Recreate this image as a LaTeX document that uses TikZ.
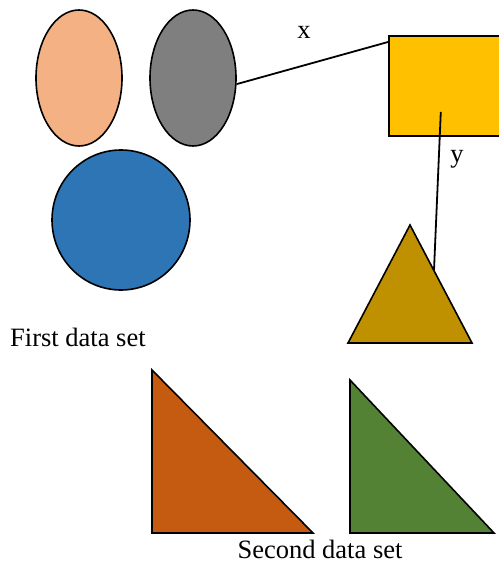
\documentclass[tikz,border=0pt]{standalone}
\usepackage{fontspec}
\setmainfont{Liberation Serif}
\usepackage{tikz}
\usetikzlibrary{shapes.geometric, positioning}
\definecolor{FigPeach}{HTML}{F4B183}
\definecolor{FigGray}{HTML}{7F7F7F}
\definecolor{FigBlue}{HTML}{2E75B6}
\definecolor{FigYellow}{HTML}{FFC000}
\definecolor{FigGold}{HTML}{BF9000}
\definecolor{FigOrange}{HTML}{C55A11}
\definecolor{FigGreen}{HTML}{548235}

\begin{document}
\begin{tikzpicture}[x=1pt, y=-1pt,
  oval/.style={ellipse, draw=black, line width=1.6pt, inner sep=0pt, minimum width=86pt, minimum height=136pt},
  sbox/.style={rectangle, draw=black, line width=1.6pt, inner sep=0pt, minimum width=116pt, minimum height=100pt},
  tri/.style={draw=black, line width=1.6pt, line join=miter},
  link/.style={line width=1.8pt},
  lbl/.style={font=\fontsize{26.5}{30}\selectfont, inner sep=0pt}
]
\useasboundingbox (0,0) rectangle (498,564);
\node[oval, fill=FigPeach] (peach) at (79,78) {};
\node[oval, fill=FigGray] (gray) at (193,78) {};
\node[oval, fill=FigBlue, minimum width=138pt, minimum height=140pt] (blue) at (121,220) {};
\node[sbox, fill=FigYellow, anchor=north west] (box) at (388,35) {};

% triangles
\draw[tri, fill=FigGold] (410,225) coordinate (apex) -- (472,343) coordinate (tright) -- (348,343) coordinate (tleft) -- cycle;
\draw[tri, fill=FigOrange] (152,370) coordinate (otop) -- (152,533) coordinate (ocorner) -- (313,533) coordinate (oright) -- cycle;
\draw[tri, fill=FigGreen] (350,380) coordinate (gtop) -- (350,533) coordinate (gcorner) -- (494,533) coordinate (gright) -- cycle;

\coordinate (xend) at ([yshift=-7pt]box.north west);
\coordinate (ystart) at ([shift={(-6pt,-26pt)}]box.center);
\coordinate (yend) at (434,270);
\draw[link] (gray.-8) -- (xend);
\draw[link] (ystart) -- (yend);

\node[lbl, anchor=base] (xlbl) at (304,39) {x};
\node[lbl, anchor=base] (ylbl) at (457,162) {y};
\node[lbl, anchor=base west] (first) at (10,346) {First data set};
\node[lbl, anchor=base] (second) at (320,558) {Second data set};
\end{tikzpicture}
\end{document}
